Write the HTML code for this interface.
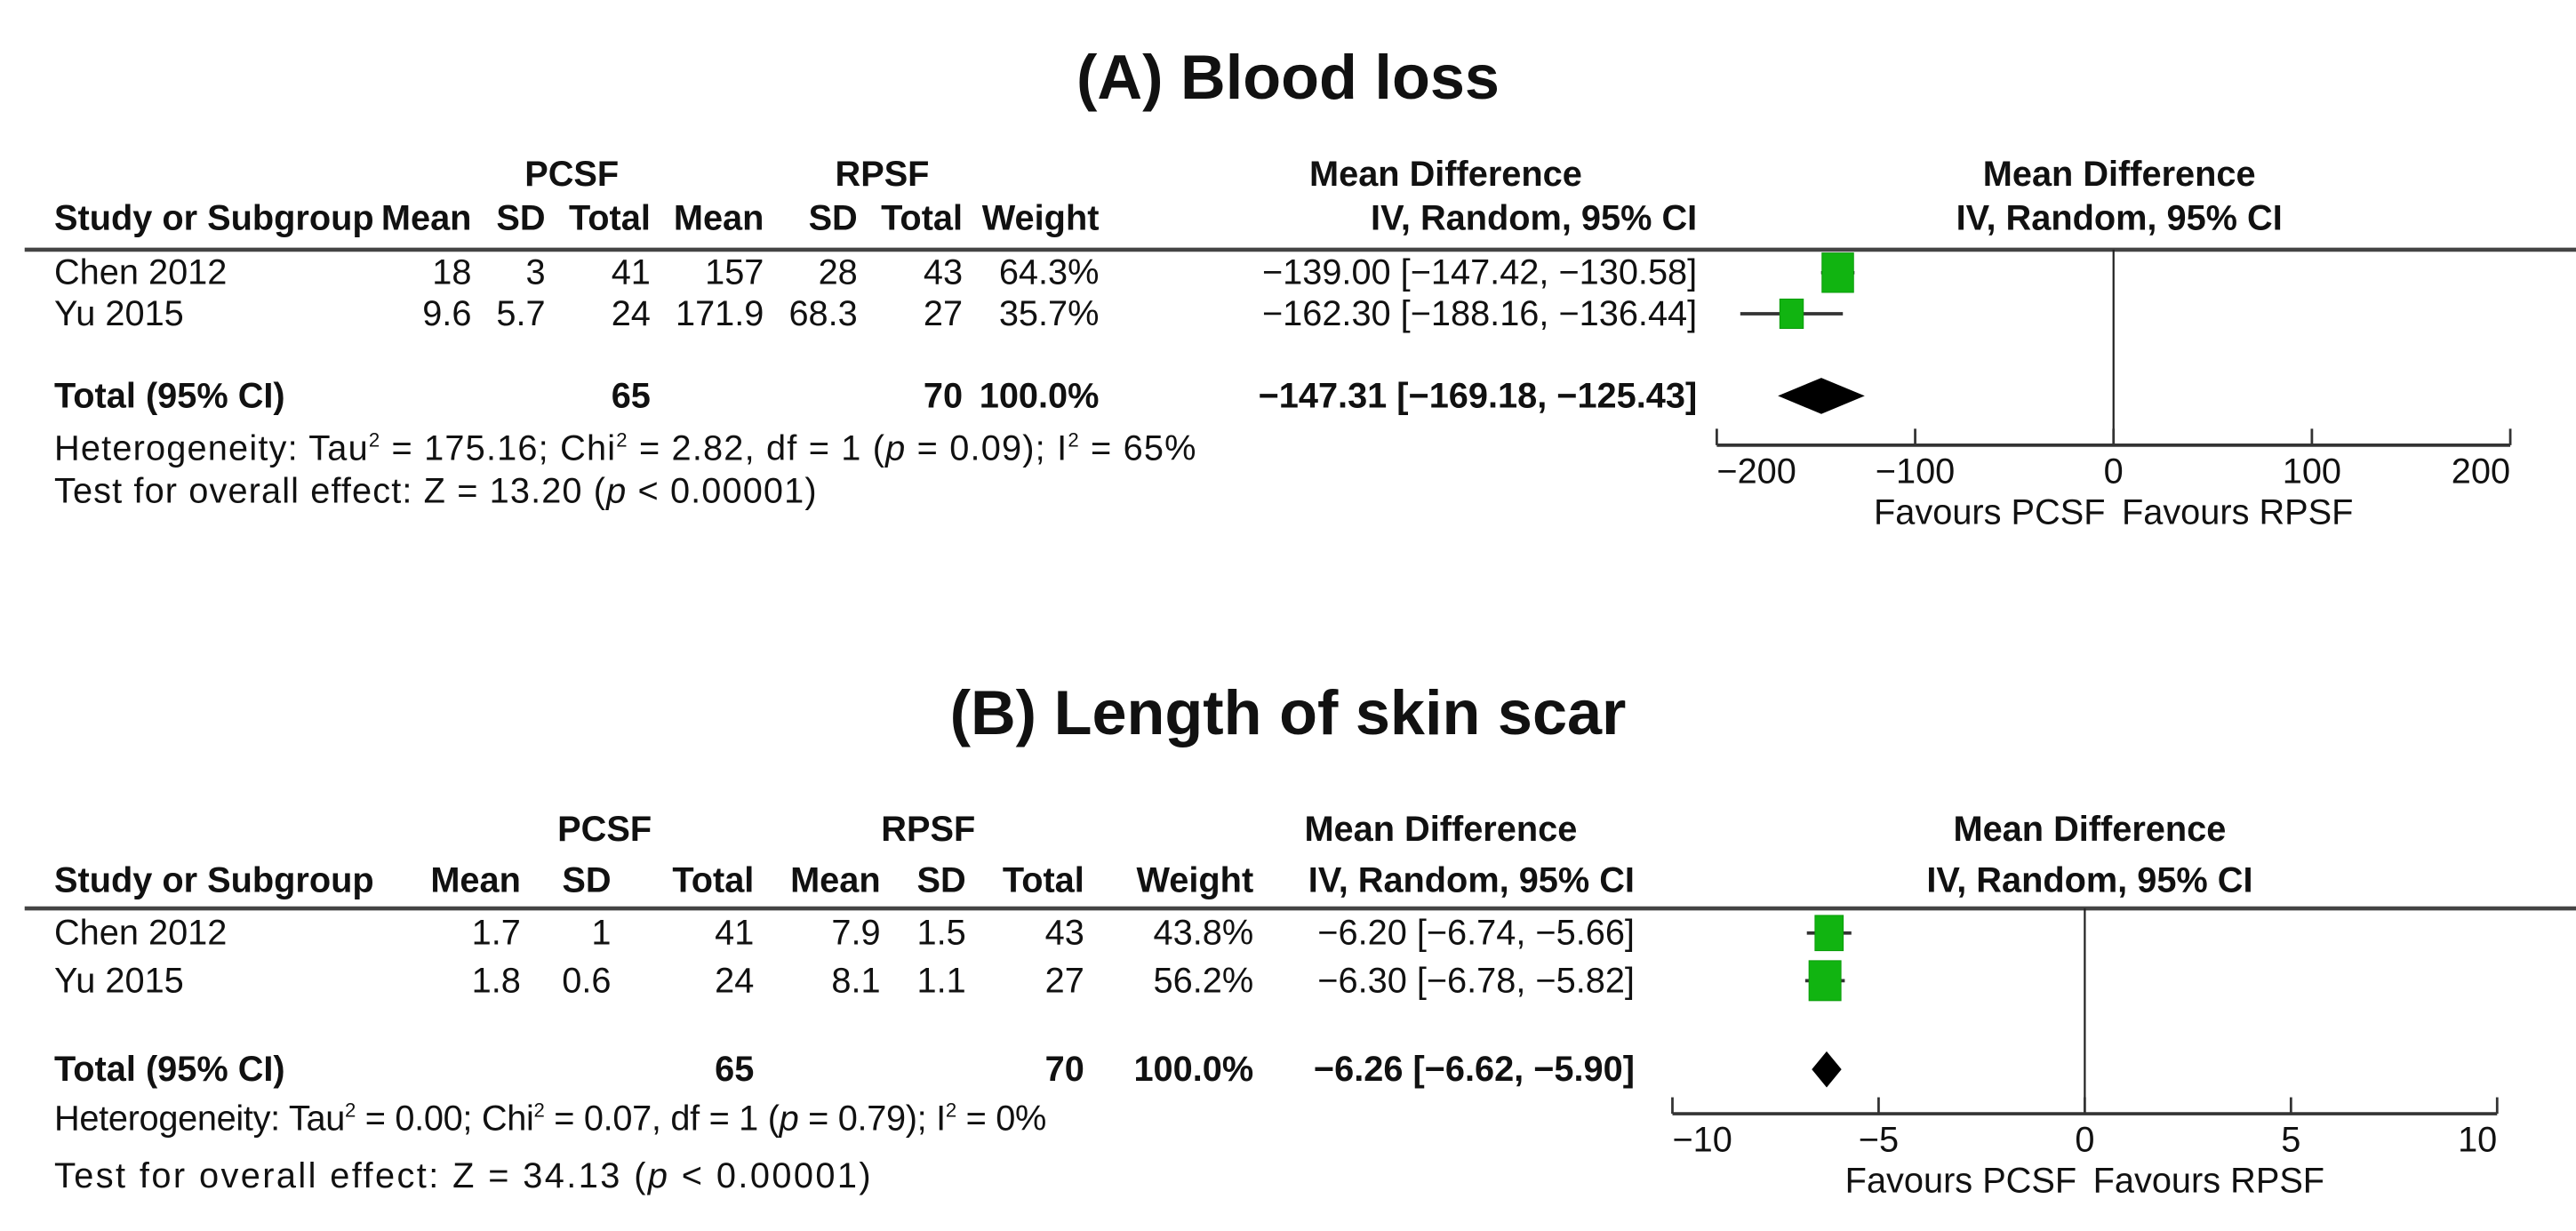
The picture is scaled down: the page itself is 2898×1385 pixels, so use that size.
<!DOCTYPE html>
<html><head><meta charset="utf-8"><style>
html,body{margin:0;padding:0;background:#fff;}
svg{display:block;font-family:"Liberation Sans",sans-serif;}
.t{font-size:21.5px;fill:#111;}
.b{font-weight:bold;}
</style></head><body>
<svg id="fig" width="2898" height="1385" viewBox="0 0 1568 749.4" preserveAspectRatio="none" xmlns="http://www.w3.org/2000/svg"></svg>
<script>
// ---- Panel A data ----
const studiesA = ["Chen 2012", "Yu 2015"];
const pcsfMeanA = ["18", "9.6"], pcsfSdA = ["3", "5.7"], pcsfTotA = ["41", "24"];
const rpsfMeanA = ["157", "171.9"], rpsfSdA = ["28", "68.3"], rpsfTotA = ["43", "27"];
const weightA = [64.3, 35.7];
const mdA = [-139.00, -162.30], loA = [-147.42, -188.16], hiA = [-130.58, -136.44];
const totalA = [-147.31, -169.18, -125.43];
const ticksA = [-200, -100, 0, 100, 200];
const tickLabelsA = ["\u2212200", "\u2212100", "0", "100", "200"];
// ---- Panel B data ----
const studiesB = ["Chen 2012", "Yu 2015"];
const pcsfMeanB = ["1.7", "1.8"], pcsfSdB = ["1", "0.6"], pcsfTotB = ["41", "24"];
const rpsfMeanB = ["7.9", "8.1"], rpsfSdB = ["1.5", "1.1"], rpsfTotB = ["43", "27"];
const weightB = [43.8, 56.2];
const mdB = [-6.20, -6.30], loB = [-6.74, -6.78], hiB = [-5.66, -5.82];
const totalB = [-6.26, -6.62, -5.90];
const ticksB = [-10, -5, 0, 5, 10];
const tickLabelsB = ["\u221210", "\u22125", "0", "5", "10"];

const svg = document.getElementById('fig');
const NS = "http://www.w3.org/2000/svg";
function mk(tag, attrs, name, parent) {
  const e = document.createElementNS(NS, tag);
  for (const k in attrs) e.setAttribute(k, attrs[k]);
  
  
  (parent || svg).appendChild(e);
  return e;
}
function txt(x, y, s, anchor, cls, name, size) {
  const e = mk('text', {x: x, y: y, 'text-anchor': anchor || 'start', class: 't ' + (cls || '')}, name);
  if (size) e.setAttribute('style', 'font-size:' + size + 'px');
  e.innerHTML = s;
  return e;
}
const M = "\u2212";
function f(v) { return (v < 0 ? M : "") + Math.abs(v).toFixed(2); }

function panel(P) {
  const g = P;
  txt(784, g.titleY, g.title, 'middle', 'b', 'panel-title', 38);
  txt(g.c.pcsf, g.h1, 'PCSF', 'middle', 'b', 'pcsf-header');
  txt(g.c.rpsf, g.h1, 'RPSF', 'middle', 'b', 'rpsf-header');
  txt(g.c.mdc, g.h1, 'Mean Difference', 'middle', 'b', 'mean-difference-header');
  txt(g.ax.center, g.h1, 'Mean Difference', 'middle', 'b', 'plot-mean-difference-header');
  txt(33, g.h2, 'Study or Subgroup', 'start', 'b', 'study-header');
  const hdr = ['Mean', 'SD', 'Total', 'Mean', 'SD', 'Total', 'Weight'];
  g.cols.forEach((x, i) => txt(x, g.h2, hdr[i], 'end', 'b', 'column-header'));
  txt(g.c.md, g.h2, 'IV, Random, 95% CI', 'end', 'b', 'iv-random-header');
  txt(g.ax.center, g.h2, 'IV, Random, 95% CI', 'middle', 'b', 'plot-iv-random-header');
  mk('line', {x1: 15, x2: 1568, y1: g.line, y2: g.line, stroke: '#444', 'stroke-width': 2.5}, 'header-rule');
  const X = v => g.ax.x0 + (v - g.ax.min) / (g.ax.max - g.ax.min) * (g.ax.x1 - g.ax.x0);
  mk('line', {x1: X(0), x2: X(0), y1: g.line, y2: g.axisY, stroke: '#222', 'stroke-width': 1.2}, 'null-effect-line');
  g.studies.forEach((s, i) => {
    const y = g.rows[i];
    txt(33, y, s, 'start', '', 'study-name');
    const vals = [g.pm[i], g.ps[i], g.pt[i], g.rm[i], g.rs[i], g.rt[i], g.w[i].toFixed(1) + '%'];
    vals.forEach((v, j) => txt(g.cols[j], y, v, 'end', '', 'cell-value'));
    txt(g.c.md, y, f(g.md[i]) + ' [' + f(g.lo[i]) + ', ' + f(g.hi[i]) + ']', 'end', '', 'effect-ci-text');
    const cy = y - 7;
    mk('line', {x1: X(g.lo[i]), x2: X(g.hi[i]), y1: cy, y2: cy, stroke: '#333', 'stroke-width': 2}, 'ci-whisker');
    const h = g.sq * Math.sqrt(g.w[i] / 100) * 1.25, wd = h * 0.8;
    mk('rect', {x: X(g.md[i]) - wd / 2, y: cy - h / 2, width: wd, height: h, fill: '#11b411', stroke: '#0a9a0a', 'stroke-width': 0.5}, 'study-effect-square');
  });
  const ty = g.totY;
  txt(33, ty, 'Total (95% CI)', 'start', 'b', 'total-label');
  txt(g.cols[2], ty, '65', 'end', 'b', 'pcsf-total');
  txt(g.cols[5], ty, '70', 'end', 'b', 'rpsf-total');
  txt(g.cols[6], ty, '100.0%', 'end', 'b', 'total-weight');
  txt(g.c.md, ty, f(g.tot[0]) + ' [' + f(g.tot[1]) + ', ' + f(g.tot[2]) + ']', 'end', 'b', 'total-effect-text');
  const dy = ty - 7;
  mk('polygon', {points: [X(g.tot[1]) + ',' + dy, X(g.tot[0]) + ',' + (dy - 11), X(g.tot[2]) + ',' + dy, X(g.tot[0]) + ',' + (dy + 11)].join(' '), fill: '#000'}, 'pooled-diamond');
  const h1 = txt(33, g.hetY, g.het, 'start', '', 'heterogeneity-text');
  h1.setAttribute('textLength', g.hetW);
  const t1 = txt(33, g.testY, g.test, 'start', '', 'overall-effect-text');
  t1.setAttribute('textLength', g.testW);
  mk('line', {x1: g.ax.x0, x2: g.ax.x1, y1: g.axisY, y2: g.axisY, stroke: '#333', 'stroke-width': 2}, 'x-axis');
  g.ticks.forEach((t, i) => {
    mk('line', {x1: X(t), x2: X(t), y1: g.axisY - 10, y2: g.axisY, stroke: '#333', 'stroke-width': 1.5}, 'x-tick');
    txt(X(t), g.axisY + 23, g.tl[i], i === 0 ? 'start' : (i === g.ticks.length - 1 ? 'end' : 'middle'), '', 'x-tick-label');
  });
  txt(X(0) - 5, g.axisY + 48, 'Favours PCSF', 'end', '', 'favours-pcsf-label');
  txt(X(0) + 5, g.axisY + 48, 'Favours RPSF', 'start', '', 'favours-rpsf-label');
}

panel({title: '(A) Blood loss', titleY: 60, h1: 113, h2: 140, line: 152,
  c: {pcsf: 348, rpsf: 537, md: 1033, mdc: 880},
  cols: [287, 332, 396, 465, 522, 586, 669],
  ax: {x0: 1045, x1: 1528, min: -200, max: 200, center: 1290},
  axisY: 271, rows: [173, 198], totY: 248, hetY: 280, testY: 306, sq: 24, hetW: 695, testW: 464,
  studies: studiesA, pm: pcsfMeanA, ps: pcsfSdA, pt: pcsfTotA, rm: rpsfMeanA, rs: rpsfSdA, rt: rpsfTotA,
  w: weightA, md: mdA, lo: loA, hi: hiA, tot: totalA, ticks: ticksA, tl: tickLabelsA,
  het: 'Heterogeneity: Tau<tspan dy="-8" font-size="12">2</tspan><tspan dy="8"> = 175.16; Chi</tspan><tspan dy="-8" font-size="12">2</tspan><tspan dy="8"> = 2.82, df = 1 (</tspan><tspan font-style="italic">p</tspan> = 0.09); I<tspan dy="-8" font-size="12">2</tspan><tspan dy="8"> = 65%</tspan>',
  test: 'Test for overall effect: Z = 13.20 (<tspan font-style="italic">p</tspan> &lt; 0.00001)'});

panel({title: '(B) Length of skin scar', titleY: 447, h1: 512, h2: 543, line: 553,
  c: {pcsf: 368, rpsf: 565, md: 995, mdc: 877},
  cols: [317, 372, 459, 536, 588, 660, 763],
  ax: {x0: 1018, x1: 1520, min: -10, max: 10, center: 1272},
  axisY: 678, rows: [575, 604], totY: 658, hetY: 688, testY: 723, sq: 26, hetW: 604, testW: 497,
  studies: studiesB, pm: pcsfMeanB, ps: pcsfSdB, pt: pcsfTotB, rm: rpsfMeanB, rs: rpsfSdB, rt: rpsfTotB,
  w: weightB, md: mdB, lo: loB, hi: hiB, tot: totalB, ticks: ticksB, tl: tickLabelsB,
  het: 'Heterogeneity: Tau<tspan dy="-8" font-size="12">2</tspan><tspan dy="8"> = 0.00; Chi</tspan><tspan dy="-8" font-size="12">2</tspan><tspan dy="8"> = 0.07, df = 1 (</tspan><tspan font-style="italic">p</tspan> = 0.79); I<tspan dy="-8" font-size="12">2</tspan><tspan dy="8"> = 0%</tspan>',
  test: 'Test for overall effect: Z = 34.13 (<tspan font-style="italic">p</tspan> &lt; 0.00001)'});
</script>
</body></html>
